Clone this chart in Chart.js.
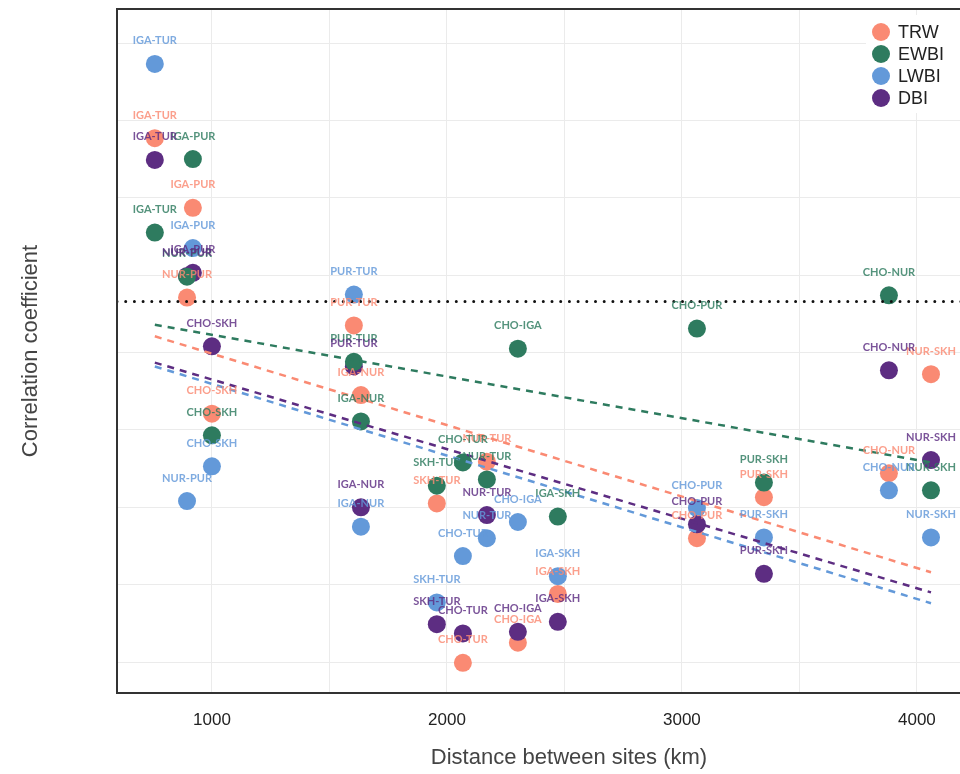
<!DOCTYPE html>
<html>
<head>
<meta charset="utf-8">
<script src="https://cdn.jsdelivr.net/npm/chart.js@4"></script>
<style>
  html, body { margin: 0; padding: 0; background: #fff; overflow: hidden; }
  canvas { display: block; }
</style>
</head>
<body>
<canvas id="corrChart" width="1030" height="774"></canvas>
<script>
// site pairs and distance between them (km)
const pairs = ['IGA-TUR', 'IGA-PUR', 'NUR-PUR', 'CHO-SKH', 'PUR-TUR', 'IGA-NUR', 'SKH-TUR', 'CHO-TUR',
               'NUR-TUR', 'CHO-IGA', 'IGA-SKH', 'CHO-PUR', 'PUR-SKH', 'CHO-NUR', 'NUR-SKH'];
const distances = [757, 919, 894, 1000, 1604, 1634, 1957, 2068, 2170, 2302, 2472, 3064, 3349, 3881, 4060];

// correlation coefficients per index
const trw  = [0.677, 0.587, 0.471, 0.321, 0.435, 0.345, 0.205, -0.001, 0.259, 0.025, 0.088, 0.160, 0.213, 0.244, 0.372];
const ewbi = [0.555, 0.650, 0.498, 0.293, 0.388, 0.311, 0.228, 0.258, 0.236, 0.405, 0.188, 0.431, 0.232, 0.474, 0.222];
const lwbi = [0.773, 0.535, 0.208, 0.253, 0.475, 0.175, 0.077, 0.137, 0.160, 0.181, 0.111, 0.199, 0.161, 0.222, 0.161];
const dbi  = [0.649, 0.503, 0.499, 0.408, 0.382, 0.200, 0.049, 0.037, 0.190, 0.039, 0.052, 0.178, 0.114, 0.377, 0.261];

// fitted trend lines (start / end)
const trendX = [757, 4060];
const trendTRW  = [0.421, 0.116];
const trendEWBI = [0.436, 0.258];
const trendLWBI = [0.382, 0.076];
const trendDBI  = [0.387, 0.090];

// significance threshold
const threshold = 0.466;
const xRange = [596, 4443];
const xGrid = [1000, 1500, 2000, 2500, 3000, 3500, 4000];
const xTickLabels = ['1000', '', '2000', '', '3000', '', '4000'];

const colors = { TRW: '#fa8a73', EWBI: '#2e7b5f', LWBI: '#6399d9', DBI: '#5d2d82' };

function toPoints(xs, ys) {
    return xs.map((x, i) => ({ x: x, y: ys[i] }));
}

function pointSet(label, values, order) {
    return {
        label: label,
        data: toPoints(distances, values),
        backgroundColor: colors[label],
        borderWidth: 0,
        pointRadius: 9,
        pointHoverRadius: 9,
        order: order,
        isPoints: true
    };
}

function trendSet(label, values) {
    return {
        type: 'line',
        label: label + ' fit',
        data: toPoints(trendX, values),
        borderColor: colors[label],
        borderWidth: 2.5,
        borderDash: [7, 6],
        pointRadius: 0,
        fill: false,
        order: 0
    };
}

// frame around plot area
const framePlugin = {
    id: 'frame',
    afterDraw(chart) {
        const { ctx, chartArea } = chart;
        ctx.save();
        ctx.strokeStyle = '#333';
        ctx.lineWidth = 2;
        ctx.strokeRect(chartArea.left, chartArea.top, chartArea.right - chartArea.left, chartArea.bottom - chartArea.top);
        ctx.restore();
    }
};

// pair labels above each point
const labelPlugin = {
    id: 'pairLabels',
    afterDatasetsDraw(chart) {
        const ctx = chart.ctx;
        ctx.save();
        ctx.font = 'bold 11px Lato';
        ctx.textAlign = 'center';
        ctx.textBaseline = 'middle';
        ctx.globalAlpha = 0.82;
        chart.data.datasets.forEach((ds, i) => {
            if (!ds.isPoints) return;
            const meta = chart.getDatasetMeta(i);
            ctx.fillStyle = ds.backgroundColor;
            meta.data.forEach((pt, j) => {
                ctx.fillText(pairs[j], pt.x, pt.y - 23);
            });
        });
        ctx.restore();
    }
};

// legend inside plot, top right
const legendPlugin = {
    id: 'insideLegend',
    afterDraw(chart) {
        const ctx = chart.ctx;
        const items = chart.data.datasets.filter(ds => ds.isPoints);
        ctx.save();
        ctx.fillStyle = '#fff';
        ctx.fillRect(866, 15, 140, 98);
        ctx.font = '18px "Liberation Sans"';
        ctx.textBaseline = 'middle';
        ctx.textAlign = 'left';
        items.forEach((ds, i) => {
            const y = 32 + i * 22;
            ctx.fillStyle = ds.backgroundColor;
            ctx.beginPath();
            ctx.arc(881, y, 9, 0, Math.PI * 2);
            ctx.fill();
            ctx.fillStyle = '#222';
            ctx.fillText(ds.label, 898, y + 1);
        });
        ctx.restore();
    }
};

const ctx = document.getElementById('corrChart').getContext('2d');
const corrChart = new Chart(ctx, {
    type: 'scatter',
    data: {
        datasets: [
            pointSet('TRW', trw, 4),
            pointSet('EWBI', ewbi, 1),
            pointSet('LWBI', lwbi, 3),
            pointSet('DBI', dbi, 2),
            trendSet('EWBI', trendEWBI),
            trendSet('TRW', trendTRW),
            trendSet('DBI', trendDBI),
            trendSet('LWBI', trendLWBI),
            {
                type: 'line',
                label: 'threshold',
                data: toPoints(xRange, [threshold, threshold]),
                borderColor: '#111',
                borderWidth: 3,
                borderDash: [0, 8.7],
                borderCapStyle: 'round',
                pointRadius: 0,
                order: 0
            }
        ]
    },
    options: {
        responsive: false,
        animation: false,
        events: [],
        layout: { padding: { top: 8, right: 3, left: 0, bottom: 0 } },
        plugins: {
            legend: { display: false },
            tooltip: { enabled: false }
        },
        scales: {
            x: {
                type: 'linear',
                min: xRange[0],
                max: xRange[1],
                afterFit(scale) { scale.height = 81; },
                afterBuildTicks(scale) { scale.ticks = xGrid.map(v => ({ value: v })); },
                grid: { color: '#ebebeb', lineWidth: 1, drawTicks: false },
                border: { display: false },
                ticks: {
                    autoSkip: false,
                    maxRotation: 0,
                    padding: 17,
                    color: '#222',
                    font: { family: 'Liberation Sans', size: 17 },
                    callback: (v, i) => xTickLabels[i]
                },
                title: {
                    display: true,
                    text: 'Distance between sites (km)',
                    color: '#444',
                    font: { family: 'Liberation Sans', size: 22 },
                    padding: { top: 0, bottom: 3 }
                }
            },
            y: {
                min: -0.04,
                max: 0.844,
                afterFit(scale) { scale.width = 117; },
                grid: { color: '#ebebeb', lineWidth: 1, drawTicks: false },
                border: { display: false },
                ticks: { display: false, stepSize: 0.1, includeBounds: false },
                title: {
                    display: true,
                    text: 'Correlation coefficient',
                    color: '#444',
                    font: { family: 'Liberation Sans', size: 22 },
                    padding: { top: 18, bottom: 0 }
                }
            }
        }
    },
    plugins: [labelPlugin, framePlugin, legendPlugin]
});
</script>
</body>
</html>
